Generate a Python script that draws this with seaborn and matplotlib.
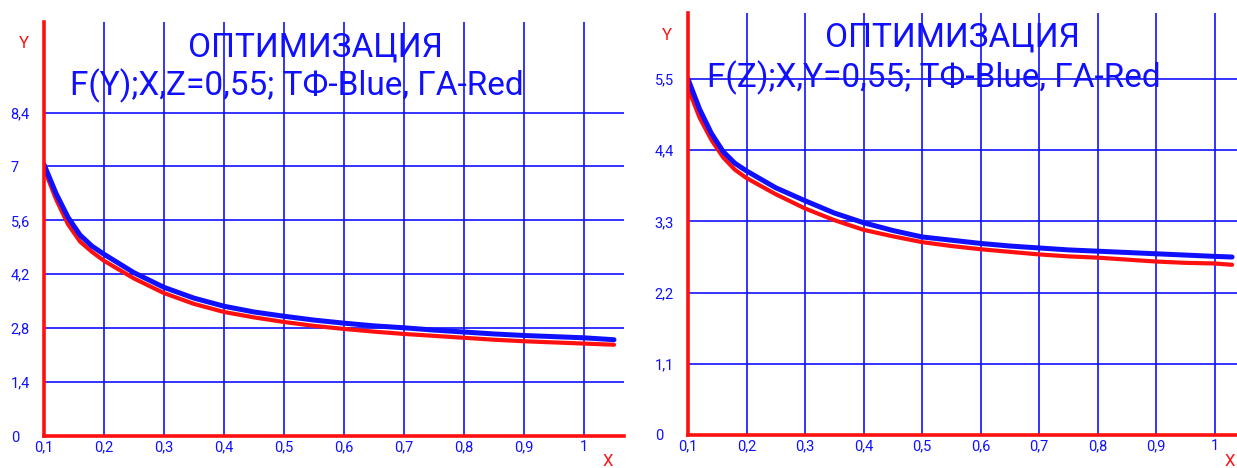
import matplotlib
matplotlib.use("Agg")
import matplotlib.pyplot as plt
from matplotlib import font_manager as fm
import seaborn as sns
import pandas as pd

# ---------------- data ----------------
x_fy = [0.10, 0.12, 0.14, 0.16, 0.18, 0.20, 0.25, 0.30, 0.35, 0.40, 0.45, 0.50,
        0.55, 0.60, 0.65, 0.70, 0.75, 0.80, 0.85, 0.90, 0.95, 1.00, 1.05]
fy_blue = [7.05, 6.30, 5.68, 5.22, 4.93, 4.72, 4.24, 3.86, 3.58, 3.37, 3.22, 3.11,
           3.01, 2.93, 2.86, 2.81, 2.75, 2.70, 2.65, 2.61, 2.58, 2.55, 2.50]
fy_red = [6.95, 6.15, 5.50, 5.05, 4.78, 4.55, 4.09, 3.71, 3.43, 3.22, 3.08, 2.96,
          2.86, 2.78, 2.71, 2.65, 2.60, 2.55, 2.50, 2.46, 2.43, 2.40, 2.37]

x_fz = [0.10, 0.12, 0.14, 0.16, 0.18, 0.20, 0.25, 0.30, 0.35, 0.40, 0.45, 0.50,
        0.55, 0.60, 0.65, 0.70, 0.75, 0.80, 0.85, 0.90, 0.95, 1.00, 1.03]
fz_blue = [5.50, 5.03, 4.66, 4.38, 4.20, 4.08, 3.82, 3.62, 3.43, 3.28, 3.16, 3.06,
           3.01, 2.96, 2.92, 2.89, 2.86, 2.84, 2.82, 2.80, 2.78, 2.76, 2.75]
fz_red = [5.36, 4.90, 4.56, 4.29, 4.10, 3.97, 3.72, 3.50, 3.32, 3.17, 3.07, 2.98,
          2.92, 2.87, 2.83, 2.79, 2.76, 2.74, 2.71, 2.68, 2.66, 2.65, 2.63]

x_ticks = [0.1, 0.2, 0.3, 0.4, 0.5, 0.6, 0.7, 0.8, 0.9, 1.0]
x_tick_labels = ["0,1", "0,2", "0,3", "0,4", "0,5", "0,6", "0,7", "0,8", "0,9", "1"]
y_ticks_fy = [0, 1.4, 2.8, 4.2, 5.6, 7.0, 8.4]
y_labels_fy = ["0", "1,4", "2,8", "4,2", "5,6", "7", "8,4"]
y_ticks_fz = [0, 1.1, 2.2, 3.3, 4.4, 5.5]
y_labels_fz = ["0", "1,1", "2,2", "3,3", "4,4", "5,5"]

title_main = "ОПТИМИЗАЦИЯ"
title_fy = "F(Y);X,Z=0,55; ТФ-Blue, ГА-Red"
title_fz = "F(Z);X,Y=0,55; ТФ-Blue, ГА-Red"

# ---------------- style ----------------
sns.set_style("white")
names = {f.name for f in fm.fontManager.ttflist}
FONT = "Liberation Sans Narrow" if "Liberation Sans Narrow" in names else "Roboto"
plt.rcParams["font.family"] = [FONT, "DejaVu Sans"]

BLUE = "#1010ff"
RED = "#ff1010"

W, H = 1237, 468
fig = plt.figure(figsize=(W / 100, H / 100), dpi=100)


def px_axes(left, right, top, bottom):
    return fig.add_axes([left / W, 1 - bottom / H, (right - left) / W, (bottom - top) / H])


def style_axes(ax, xlim, ylim, yticks, ylabels):
    ax.set_xlim(*xlim)
    ax.set_ylim(*ylim)
    ax.set_xticks(x_ticks, x_tick_labels)
    ax.set_yticks(yticks, ylabels)
    ax.grid(True, color=BLUE, linewidth=1.2)
    ax.set_axisbelow(True)
    for s in ["top", "right"]:
        ax.spines[s].set_visible(False)
    for s in ["left", "bottom"]:
        ax.spines[s].set_color(RED)
        ax.spines[s].set_linewidth(2.6)
        ax.spines[s].set_zorder(5)
    ax.tick_params(axis="both", length=0, colors=BLUE, labelsize=10.5)
    ax.tick_params(axis="y", pad=24)
    ax.tick_params(axis="x", pad=3)
    for lab in ax.get_yticklabels():
        lab.set_ha("left")
    ax.set_xlabel("")
    ax.set_ylabel("")
    ax.set_facecolor("white")


def draw(ax, x, blue, red):
    df = pd.DataFrame({"x": x + x, "y": red + blue,
                       "s": ["ГА"] * len(x) + ["ТФ"] * len(x)})
    sns.lineplot(data=df, x="x", y="y", hue="s", palette={"ГА": RED, "ТФ": BLUE},
                 size="s", sizes={"ГА": 3.0, "ТФ": 3.6}, legend=False, ax=ax,
                 zorder=4)


# left panel
ax1 = px_axes(44, 624, 22, 436)
draw(ax1, x_fy, fy_blue, fy_red)
style_axes(ax1, (0.1, 0.1 + 580 / 600), (0, 10.75), y_ticks_fy, y_labels_fy)

# right panel
ax2 = px_axes(688, 1237, 13, 435)
draw(ax2, x_fz, fz_blue, fz_red)
style_axes(ax2, (0.1, 0.1 + 549 / 585), (0, 6.52), y_ticks_fz, y_labels_fz)

# titles
TS = 24
fig.text(315 / W, 1 - 47 / H, title_main, color=BLUE, fontsize=TS, ha="center", va="center")
fig.text(297 / W, 1 - 86 / H, title_fy, color=BLUE, fontsize=TS, ha="center", va="center")
fig.text(952 / W, 1 - 37 / H, title_main, color=BLUE, fontsize=TS, ha="center", va="center")
fig.text(934 / W, 1 - 78 / H, title_fz, color=BLUE, fontsize=TS, ha="center", va="center")

# axis letters
fig.text(24 / W, 1 - 43 / H, "Y", color=RED, fontsize=12, ha="center", va="center")
fig.text(608 / W, 1 - 461 / H, "X", color=RED, fontsize=12, ha="center", va="center")
fig.text(667 / W, 1 - 35 / H, "Y", color=RED, fontsize=12, ha="center", va="center")
fig.text(1230 / W, 1 - 461 / H, "X", color=RED, fontsize=12, ha="center", va="center")

fig.savefig("out.png", dpi=100, facecolor="white")
